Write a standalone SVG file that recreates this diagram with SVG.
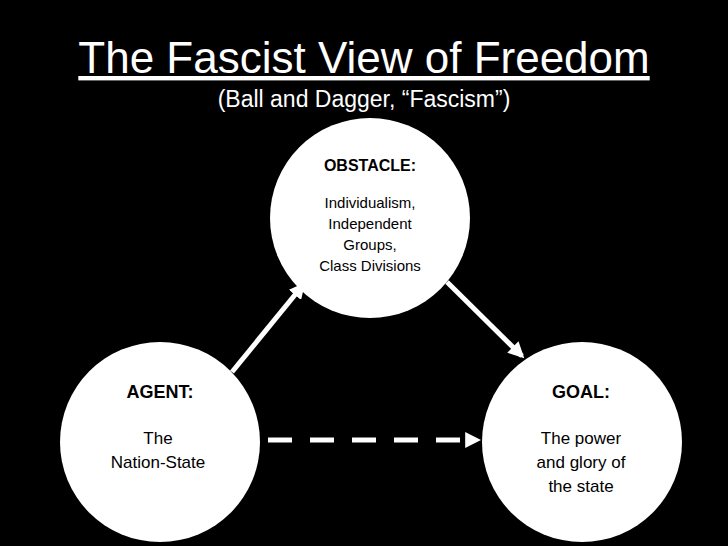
<svg xmlns="http://www.w3.org/2000/svg" width="728" height="546" viewBox="0 0 728 546">
<defs>
<marker id="ah" viewBox="0 0 10 10" refX="8" refY="5" markerWidth="3.2" markerHeight="3.2" orient="auto"><path d="M0,0L10,5L0,10z" fill="#fff"/></marker>
<style>
text{font-family:"Liberation Sans",Arial,sans-serif;fill:#000;text-anchor:middle}
.t{fill:#fff}
circle{fill:#fff}
.c line{stroke:#fff;stroke-width:5;marker-end:url(#ah)}
</style>
</defs>
<rect width="728" height="546" fill="#000"/>
<text class="t" x="364" y="73" font-size="44" text-decoration="underline">The Fascist View of Freedom</text>
<text class="t" x="364" y="107" font-size="23">(Ball and Dagger, “Fascism”)</text>
<g id="obstacle"><circle cx="370" cy="218" r="100"/>
<text x="370" y="171" font-size="16" font-weight="bold">OBSTACLE:</text>
<text x="370" y="208" font-size="15">Individualism,</text>
<text x="370" y="229" font-size="15">Independent</text>
<text x="370" y="250" font-size="15">Groups,</text>
<text x="370" y="271" font-size="15">Class Divisions</text></g>
<g id="agent"><circle cx="160" cy="442" r="100"/>
<text x="160" y="398" font-size="18" font-weight="bold">AGENT:</text>
<text x="158" y="444" font-size="17">The</text>
<text x="158" y="468" font-size="17">Nation-State</text></g>
<g id="goal"><circle cx="582" cy="442" r="100"/>
<text x="581" y="398" font-size="18" font-weight="bold">GOAL:</text>
<text x="581" y="444" font-size="17">The power</text>
<text x="581" y="468" font-size="17">and glory of</text>
<text x="581" y="492" font-size="17">the state</text></g>
<g class="c">
<line x1="232" y1="372" x2="303" y2="285"/>
<line x1="447" y1="282" x2="522" y2="356"/>
<line x1="268" y1="440" x2="478" y2="440" stroke-dasharray="24,18"/>
</g>
</svg>
